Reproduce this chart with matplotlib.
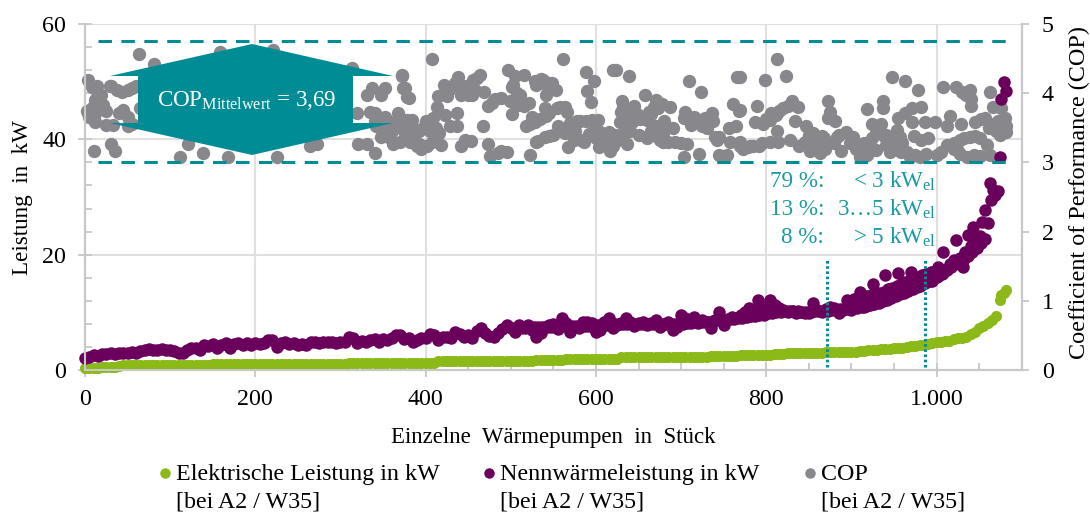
import matplotlib
matplotlib.use('Agg')
import matplotlib.pyplot as plt
from matplotlib.lines import Line2D
from matplotlib.patches import Polygon

plt.rcParams['font.family'] = ['Liberation Serif', 'DejaVu Serif']
plt.rcParams['mathtext.fontset'] = 'custom'
plt.rcParams['mathtext.rm'] = 'Liberation Serif'

GREEN = '#8ab918'
PURPLE = '#6b005c'
GREY = '#87878c'
TEAL = '#008c95'
TEAL_TEXT = '#1a9aa2'
GRID = '#e0e0e0'
AXIS = '#c8c8c8'

COP_MEAN = '3,69'
COP_LOW = 3.0
COP_HIGH = 4.75
MARK_X = [871, 986]

# electric power, one value every 5 pumps up to 1070
elec_x = list(range(0, 1075, 5)) + [1074, 1076, 1079, 1082]
elec_y = [
    0.4, 0.4, 0.4, 0.4, 0.5, 0.5, 0.5, 0.5, 0.7, 0.8, 0.8, 0.8, 0.8, 0.8, 0.8, 0.8, 0.8, 0.8, 0.8, 0.8,
    0.8, 0.9, 0.9, 0.9, 0.9, 0.9, 0.9, 0.9, 0.9, 0.9, 1.0, 1.0, 1.0, 1.0, 1.0, 1.0, 1.0, 1.0, 1.0, 1.0,
    1.0, 1.0, 1.0, 1.0, 1.0, 1.0, 1.0, 1.1, 1.1, 1.1, 1.1, 1.1, 1.1, 1.1, 1.1, 1.1, 1.1, 1.1, 1.1, 1.1,
    1.1, 1.1, 1.3, 1.3, 1.3, 1.3, 1.3, 1.3, 1.3, 1.3, 1.3, 1.3, 1.3, 1.3, 1.3, 1.3, 1.3, 1.3, 1.3, 1.3,
    1.3, 1.3, 1.3, 1.6, 1.6, 1.6, 1.6, 1.6, 1.6, 1.6, 1.6, 1.6, 1.6, 1.6, 1.6, 1.6, 1.6, 1.6, 1.6, 1.6,
    1.6, 1.6, 1.6, 1.6, 1.6, 1.6, 1.7, 1.8, 1.8, 1.8, 1.8, 1.8, 1.8, 1.9, 1.9, 1.9, 1.9, 1.9, 1.9, 1.9,
    1.9, 1.9, 1.9, 1.9, 1.9, 1.9, 2.2, 2.2, 2.2, 2.2, 2.2, 2.2, 2.2, 2.2, 2.2, 2.2, 2.2, 2.2, 2.2, 2.2,
    2.3, 2.3, 2.3, 2.3, 2.3, 2.3, 2.3, 2.4, 2.4, 2.4, 2.4, 2.5, 2.5, 2.5, 2.6, 2.6, 2.6, 2.6, 2.6, 2.6,
    2.6, 2.6, 2.7, 2.7, 2.8, 2.9, 3.0, 3.0, 3.0, 3.0, 3.0, 3.0, 3.0, 3.0, 3.1, 3.1, 3.1, 3.1, 3.1, 3.2,
    3.2, 3.2, 3.3, 3.3, 3.4, 3.4, 3.5, 3.6, 3.6, 3.7, 3.8, 3.9, 3.9, 4.0, 4.1, 4.2, 4.3, 4.4, 4.5, 4.6,
    4.8, 4.9, 5.0, 5.1, 5.3, 5.5, 5.6, 5.8, 6.2, 6.6, 7.2, 7.6, 8.1, 8.6, 9.4, 12.1, 13.0, 13.4, 13.8,
]

# rated heat output: outliers of the band every 5 pumps, the scattered top end, then the solid body of the band
heat_x = list(range(0, 1000, 5)) + [
    1000, 1002, 1006, 1008, 1012, 1016, 1020, 1023, 1027, 1031, 1033, 1037, 1041, 1043, 1047, 1051,
    1053, 1057, 1061, 1063, 1064, 1066, 1069, 1072, 1074, 1076, 1079, 1082,
] + list(range(502, 1062, 5)) + list(range(903, 1003, 5))
heat_y = [
    2.0, 2.2, 2.6, 2.5, 2.8, 2.7, 2.9, 2.8, 3.0, 2.9, 2.9, 3.1, 3.0, 3.3, 3.5, 3.6, 3.4, 3.5, 3.6, 3.4,
    3.5, 3.3, 2.9, 3.0, 3.5, 3.9, 3.8, 3.4, 4.3, 4.2, 4.5, 3.9, 4.4, 4.6, 3.8, 4.5, 4.6, 4.3, 4.7, 4.4,
    4.7, 4.5, 4.6, 5.2, 5.2, 4.0, 4.7, 4.8, 4.5, 4.7, 4.3, 4.5, 4.3, 4.9, 4.8, 4.7, 4.9, 4.8, 4.9, 4.7,
    4.9, 4.9, 5.8, 5.6, 4.6, 5.0, 4.9, 5.2, 5.3, 4.8, 5.3, 5.2, 5.5, 6.1, 6.0, 5.3, 5.6, 4.9, 5.2, 5.5,
    5.6, 6.3, 6.0, 5.2, 5.7, 5.8, 5.5, 6.6, 6.2, 5.8, 6.0, 5.5, 6.7, 7.2, 6.5, 5.9, 5.8, 6.4, 7.1, 7.8,
    7.3, 6.6, 7.8, 7.5, 7.8, 7.0, 5.8, 6.5, 7.4, 7.8, 7.9, 7.1, 9.0, 8.2, 6.6, 7.5, 7.2, 8.4, 8.4, 8.1,
    6.6, 7.0, 8.4, 9.0, 7.2, 7.8, 8.2, 9.0, 8.4, 7.6, 8.1, 8.4, 7.8, 8.1, 8.6, 7.5, 8.0, 8.3, 6.9, 7.4,
    9.5, 9.0, 8.6, 9.2, 8.2, 8.7, 8.4, 7.2, 8.6, 10.1, 7.8, 8.8, 9.2, 9.0, 9.6, 10.0, 10.7, 10.3, 12.1, 11.0,
    10.6, 12.1, 11.2, 10.7, 10.4, 10.1, 10.3, 9.9, 10.1, 9.9, 9.8, 11.6, 10.4, 10.1, 10.6, 11.0, 10.8, 9.8, 10.4, 12.1,
    10.4, 11.1, 13.6, 11.0, 11.3, 15.0, 12.0, 12.8, 16.5, 14.0, 13.2, 16.8, 13.9, 14.2, 17.0, 16.0, 14.6, 15.8, 16.5, 15.4,
    16.2, 17.9, 16.6, 20.5, 17.6, 18.4, 19.0, 22.5, 19.4, 17.9, 20.5, 23.4, 21.5, 24.8, 23.0, 23.2,
    25.7, 27.7, 25.5, 32.4, 29.5, 31.3, 30.4, 31.0, 37.0, 47.0, 50.0, 48.3,
    7.2, 7.2, 7.3, 7.3, 7.3, 7.4, 7.4, 7.4, 7.5, 7.5, 7.5, 7.5, 7.6, 7.6, 7.6, 7.6, 7.7, 7.7, 7.7, 7.8,
    7.8, 7.8, 7.8, 7.9, 7.9, 7.9, 7.9, 8.0, 8.0, 8.0, 8.0, 8.0, 8.0, 8.0, 8.0, 8.0, 8.0, 8.0, 8.0, 8.0,
    8.0, 8.1, 8.2, 8.3, 8.3, 8.4, 8.4, 8.5, 8.6, 8.6, 8.7, 8.8, 8.9, 9.0, 9.1, 9.2, 9.3, 9.4, 9.5, 9.6,
    9.8, 9.9, 10.0, 10.1, 10.2, 10.2, 10.2, 10.2, 10.1, 10.1, 10.1, 10.2, 10.2, 10.3, 10.3, 10.4, 10.4, 10.5, 10.5, 10.6,
    10.7, 10.8, 10.9, 11.1, 11.3, 11.5, 11.7, 11.9, 12.2, 12.5, 12.8, 13.1, 13.4, 13.7, 14.0, 14.4, 14.8, 15.1, 15.5, 15.9,
    16.3, 16.8, 17.3, 17.8, 18.3, 18.8, 19.3, 19.8, 20.5, 21.2, 22.0, 22.8,
    12.3, 12.4, 12.6, 12.8, 13.0, 13.2, 13.4, 13.6, 14.0, 14.3, 14.6, 14.9, 15.2, 15.5, 15.8, 16.1, 16.4, 16.7, 17.0, 17.2,
]

# COP of the single pumps
cop_x = [
    3, 8, 19, 21, 8, 4, 10, 25, 33, 10, 31, 35, 63, 81, 29, 43, 55, 45, 51, 51, 65,
    158, 221, 313, 121, 138, 111, 168, 226, 272, 264, 321, 331, 341, 372, 337, 331, 352, 348, 376, 378,
    335, 352, 368, 368, 319, 348, 362, 378, 378, 342,
    407, 372, 374, 380, 384, 370, 380, 376, 382, 390, 397, 407, 418, 416, 399, 409, 423, 413, 414, 425,
    421, 427, 438, 437, 429, 437, 442, 446, 453, 442, 442, 454, 456, 464, 468, 467, 473, 473, 482, 497,
    505, 516, 501, 511, 499, 509, 521, 502, 525, 540, 541, 518, 529, 541, 530, 538, 548, 553, 476, 485,
    495, 523, 532, 540, 550, 555, 564, 574, 567, 586, 592, 570, 581, 595, 602, 554, 564, 566, 561, 588,
    598, 590, 594, 605, 615, 604, 617, 620, 626, 637, 620, 624, 639, 631, 630, 628, 636, 642, 645, 658,
    662, 660, 650, 660, 671, 679, 679, 693, 707, 671, 673, 687, 709, 723, 705, 703, 712, 724, 728, 736,
    740, 742, 703, 721, 744, 754, 756, 765, 761, 768, 766, 757, 769, 773,
    769, 798, 813, 823, 769, 789, 830, 837, 820, 806, 787, 796, 804, 834, 847, 813, 855, 865, 872, 875,
    873, 881, 894, 883, 902, 918, 937, 937, 924, 935, 929, 941, 953, 957, 948, 963, 978, 955, 963, 971,
    982, 971, 986, 998, 1012, 1016, 1029, 1008, 1023, 1039, 1041, 1063, 1066, 1076, 1080, 1057, 1045, 1066,
    1074, 1082, 769, 781, 792, 804, 814, 828, 839, 851, 863, 869, 888, 910, 910, 929, 945, 957, 969, 980,
    988, 1000, 1012, 1027, 1039, 1051, 1059, 973, 990, 982, 1027, 1036, 1051, 1063, 855, 916, 941, 924, 898,
    386, 392, 402, 405, 412, 400, 395, 445, 448, 435, 460, 458, 450, 478, 488, 488,
    503, 507, 515, 505, 528, 535, 542, 545, 522, 534, 545, 558, 530, 545, 558,
    578, 588, 598, 575, 582, 600, 610, 612, 622, 632, 640, 636, 640, 632, 648, 652,
    665, 668, 678, 680, 690, 665, 670, 675, 685, 700, 715, 720, 732, 730, 738, 745, 770, 778, 785, 795,
    800, 812, 825, 815, 845, 850, 858, 868, 880, 885, 905, 915, 918, 925, 932, 938, 945, 950, 952, 960,
    965, 958, 975, 1005, 1020, 1020, 1032, 1045, 1025, 1044, 1068, 1072, 1062, 1052, 1030, 1035, 1040, 1075, 1070, 1082,
    14, 14, 12, 2, 12, 25, 17, 5, 12, 30, 38, 50, 60, 40, 55,
    340, 345, 355, 360, 365, 372, 385, 392, 352, 358, 370, 375, 340,
]
cop_y = [
    4.19, 4.09, 3.97, 3.83, 3.78, 3.71, 3.66, 3.54, 3.54, 3.17, 3.27, 3.17, 4.56, 4.42, 4.10, 4.02, 4.07, 3.76, 3.66, 3.52, 3.78,
    4.60, 4.62, 4.36, 3.27, 3.14, 3.08, 3.08, 3.08, 3.27, 3.23, 3.27, 3.27, 3.13, 4.25, 4.08, 3.97, 4.07, 3.97, 4.07, 3.95,
    3.73, 3.66, 3.71, 3.54, 3.71, 3.37, 3.27, 3.37, 3.61, 3.52,
    4.49, 4.26, 4.07, 3.93, 3.61, 3.64, 3.44, 3.35, 3.29, 3.23, 3.23, 3.29, 3.25, 3.43, 3.54, 3.64, 3.69, 3.80, 3.96, 3.96,
    4.12, 4.05, 4.23, 3.71, 3.52, 3.52, 3.23, 3.32, 3.31, 4.07, 3.97, 3.97, 4.19, 4.26, 4.02, 3.52, 3.27, 3.81, 3.91, 4.34,
    4.25, 4.26, 4.09, 3.98, 3.89, 3.83, 3.86, 3.70, 3.65, 3.78, 3.67, 3.52, 3.59, 3.97, 4.12, 4.19, 4.15, 4.05, 3.09, 3.14,
    3.15, 3.11, 3.31, 3.37, 3.40, 3.52, 3.42, 3.32, 3.22, 3.29, 3.41, 3.57, 3.60, 3.61, 3.61, 3.78, 3.80, 3.73, 4.49, 4.30,
    4.18, 4.03, 3.88, 3.44, 3.44, 3.22, 3.17, 3.23, 3.32, 3.26, 4.34, 4.34, 4.25, 3.89, 3.73, 3.59, 3.47, 3.59, 3.81, 3.97,
    3.73, 3.61, 3.40, 3.35, 3.52, 3.42, 3.30, 3.30, 3.26, 3.90, 3.78, 3.80, 4.18, 4.02, 3.73, 3.64, 3.54, 3.52, 3.64, 3.71,
    3.37, 3.32, 3.08, 3.12, 3.11, 3.11, 3.49, 3.52, 3.84, 3.74, 4.23, 3.30, 3.30, 3.20,
    4.24, 4.19, 4.49, 4.25, 3.76, 3.81, 3.89, 3.80, 3.78, 3.71, 3.59, 3.56, 3.61, 3.60, 3.52, 3.45, 3.42, 3.38, 3.89, 3.73,
    3.64, 3.60, 3.44, 3.37, 3.37, 3.77, 3.89, 3.78, 3.56, 3.56, 3.42, 3.40, 3.47, 3.37, 4.24, 4.18, 4.05, 3.64, 3.71, 3.78,
    3.80, 3.59, 3.59, 3.59, 3.52, 3.67, 3.56, 4.09, 4.09, 4.05, 3.81, 4.02, 3.80, 3.78, 3.64, 3.64, 3.59, 3.49,
    3.42, 3.44, 3.23, 3.23, 3.23, 3.30, 3.30, 3.32, 3.23, 3.16, 3.13, 3.19, 3.16, 3.08, 3.25, 3.18, 3.15, 3.23, 3.08, 3.08,
    3.12, 3.11, 3.25, 3.32, 3.37, 3.35, 3.25, 3.38, 3.35, 3.32, 3.12, 3.08, 3.09, 3.11, 3.23, 3.18, 3.25, 3.35, 3.28,
    3.30, 3.27, 3.24, 3.45, 3.50, 3.60, 3.20, 4.00, 4.10, 4.15, 4.22, 4.05, 3.98, 3.86, 3.93, 3.17,
    4.12, 4.00, 3.82, 3.87, 4.17, 4.20, 4.10, 4.15, 3.55, 3.62, 3.72, 3.80, 3.30, 3.38, 3.45,
    3.60, 3.60, 3.55, 3.45, 3.33, 3.35, 3.40, 3.30, 3.40, 3.42, 3.45, 3.65, 3.72, 3.80, 3.70, 3.62,
    3.70, 3.80, 3.85, 3.60, 3.50, 3.45, 3.38, 3.33, 3.30, 3.28, 3.66, 3.60, 3.58, 3.50, 3.60, 3.36, 3.23, 3.22, 3.24, 3.28,
    3.62, 3.68, 3.82, 3.75, 3.30, 3.40, 3.30, 3.35, 3.28, 3.40, 3.20, 3.28, 3.10, 3.18, 3.45, 3.38, 3.30, 3.35, 3.20, 3.28,
    3.15, 3.15, 3.10, 3.15, 3.20, 3.28, 3.35, 3.38, 3.16, 3.10, 3.55, 3.60, 3.50, 3.62, 4.02, 3.98, 3.92, 3.40, 3.45, 3.52,
    3.95, 4.10, 3.90, 3.75, 3.72, 3.75, 3.85, 3.65, 3.58, 4.10, 4.05, 4.05, 4.10, 3.72, 3.55,
    3.60, 3.55, 3.60, 3.45, 3.60, 3.55, 3.50, 3.45, 3.45, 3.35, 3.30, 3.45, 3.72,
]

W, H = 1090, 513
fig = plt.figure(figsize=(W / 100, H / 100), dpi=100)
ax = fig.add_axes([85 / W, 1 - 370 / H, (1021.7 - 85) / W, (370 - 24) / H])
ax2 = ax.twinx()

ax.set_xlim(0, 1100)
ax.set_ylim(0, 60)
ax2.set_ylim(0, 5)

ax.set_xticks([0, 200, 400, 600, 800, 1000])
ax.set_xticklabels(['0', '200', '400', '600', '800', '1.000'])
ax.set_xticks(list(range(0, 1100, 50)), minor=True)
ax.set_yticks([0, 20, 40, 60])
ax.set_yticks([v for v in range(0, 60, 4) if v % 20], minor=True)
ax2.set_yticks([0, 1, 2, 3, 4, 5])

ax.grid(True, which='major', color=GRID, linewidth=1.5, zorder=0)
ax.set_axisbelow(True)
ax.tick_params(axis='x', which='major', direction='inout', length=10, width=1.3, color=AXIS,
               labelsize=17.3, labelcolor='black', pad=8.5)
ax.tick_params(axis='y', which='major', direction='inout', length=10, width=1.3, color=AXIS,
               labelsize=17.3, labelcolor='black', pad=8.7)
ax.tick_params(axis='both', which='minor', direction='in', length=5, width=1.3, color=AXIS)
ax2.tick_params(axis='y', direction='out', length=5, width=1.3, color=AXIS, labelsize=17.3, pad=9.5)

for a in (ax, ax2):
    for side in ('top',):
        a.spines[side].set_visible(False)
    for side in ('left', 'right', 'bottom'):
        a.spines[side].set_color(AXIS)
        a.spines[side].set_linewidth(1.5)

# COP lives on the right scale but has to sit under the two power series
ax.plot(cop_x, cop_y, 'o', ms=9.6, color=GREY, mew=0, clip_on=False, transform=ax2.transData, zorder=2)
ax.plot(elec_x, elec_y, 'o', ms=8.0, color=GREEN, mew=0, clip_on=False, zorder=3)
ax.plot(heat_x, heat_y, 'o', ms=9.0, color=PURPLE, mew=0, clip_on=False, zorder=4)

for level in (COP_LOW, COP_HIGH):
    ax.plot([15, 1083], [level, level], color=TEAL, linewidth=2.2, dashes=(4.4, 3.1),
            transform=ax2.transData, zorder=5)
for mark in MARK_X:
    ax.plot([mark, mark], [0.5, 19.4], color=TEAL, linewidth=2.2, dashes=(0.85, 0.85), zorder=6)

# callout with the mean COP
outline = [(252, 44), (393, 76), (353, 76), (353, 123), (393, 123), (252, 155),
           (110, 123), (138, 123), (138, 76), (110, 76)]
fig.add_artist(Polygon([(x / W, 1 - y / H) for x, y in outline], closed=True, transform=fig.transFigure,
                       facecolor=TEAL, edgecolor='none', zorder=7))
fig.text(246.5 / W, 1 - 100 / H, 'COP$_{\\mathrm{Mittelwert}}$ = ' + COP_MEAN, color='white', fontsize=16.6,
         ha='center', va='center', zorder=8)

# share of pumps per power class
rows = [('79 %:', '< 3 kW$_{\\mathrm{el}}$', 187), ('13 %:', '3…5 kW$_{\\mathrm{el}}$', 215),
        ('8 %:', '> 5 kW$_{\\mathrm{el}}$', 243)]
for share, power, y in rows:
    fig.text(824 / W, 1 - y / H, share, color=TEAL_TEXT, fontsize=16.7, ha='right', va='baseline', zorder=8)
    fig.text(936 / W, 1 - y / H, power, color=TEAL_TEXT, fontsize=16.7, ha='right', va='baseline', zorder=8)

fig.text(23 / W, 1 - 198 / H, 'Leistung  in  kW', rotation=90, fontsize=16.6, ha='center', va='center')
fig.text(1079 / W, 1 - 193 / H, 'Coefficient of Performance (COP)', rotation=90, fontsize=17.4,
         ha='center', va='center')
fig.text(553 / W, 1 - 437 / H, 'Einzelne  Wärmepumpen  in  Stück', fontsize=16.5, ha='center', va='center')

# legend, placed by hand to keep the two-line entries
legend = [(165, GREEN, 'Elektrische Leistung in kW'), (489, PURPLE, 'Nennwärmeleistung in kW'), (810, GREY, 'COP')]
for x, color, label in legend:
    fig.add_artist(Line2D([x / W], [1 - 473 / H], marker='o', ms=7.5, color=color, mew=0,
                          transform=fig.transFigure))
    fig.text((x + 11) / W, 1 - 480 / H, label, fontsize=17.3, ha='left', va='baseline')
    fig.text((x + 11) / W, 1 - 507.5 / H, '[bei A2 / W35]', fontsize=17.3, ha='left', va='baseline')

fig.savefig('out.png', dpi=100)
